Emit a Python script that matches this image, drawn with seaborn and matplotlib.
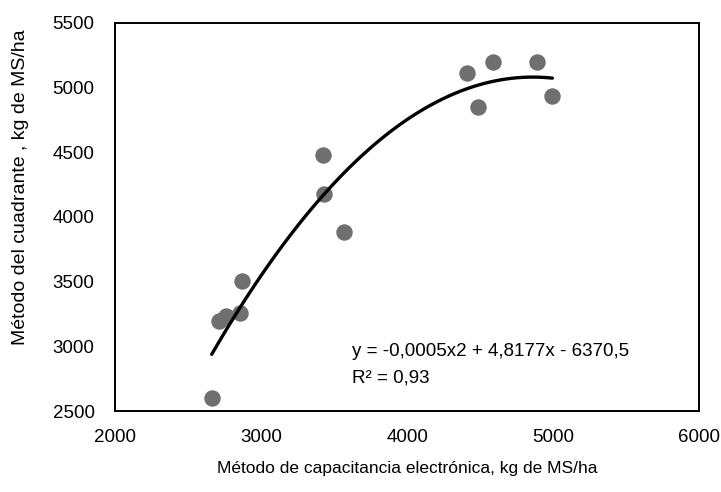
import matplotlib
matplotlib.use("Agg")
import matplotlib.pyplot as plt
import seaborn as sns
import pandas as pd

# Data
capacitancia = [2660, 2870, 2854, 2712, 2758, 3425, 3430, 3568, 4407, 4585, 4886, 4486, 4993]
cuadrante = [2603, 3505, 3258, 3194, 3232, 4481, 4178, 3882, 5111, 5193, 5193, 4852, 4936]
x_ticks = [2000, 3000, 4000, 5000, 6000]
y_ticks = [2500, 3000, 3500, 4000, 4500, 5000, 5500]
eq_text = "y = -0,0005x2 + 4,8177x - 6370,5"
r2_text = "R² = 0,93"

df = pd.DataFrame({"cap": capacitancia, "cua": cuadrante})

sns.set_theme(style="white")
plt.rcParams["font.family"] = ["Liberation Sans", "DejaVu Sans"]

fig = plt.figure(figsize=(7.21, 4.92), dpi=100)
ax = fig.add_axes([0.1600, 0.1646, 0.8100, 0.7893])

sns.regplot(data=df, x="cap", y="cua", order=2, ci=None, ax=ax,
            scatter_kws=dict(s=140, color="#6f6f6f", alpha=1, linewidths=0, zorder=2),
            line_kws=dict(color="black", lw=2.4, zorder=3))

ax.set_xlim(2000, 6000)
ax.set_ylim(2500, 5500)
ax.set_xticks(x_ticks)
ax.set_yticks(y_ticks)
ax.tick_params(axis="both", length=0, labelsize=13.5, colors="black")
ax.tick_params(axis="x", pad=13)
ax.tick_params(axis="y", pad=15)

for sp in ax.spines.values():
    sp.set_visible(True)
    sp.set_color("black")
    sp.set_linewidth(1.4)

ax.set_xlabel("Método de capacitancia electrónica, kg de MS/ha", fontsize=12.5, labelpad=10.5, color="black")
ax.set_ylabel("Método del cuadrante , kg de MS/ha", fontsize=14, color="black")
ax.yaxis.set_label_coords(-0.148, 0.577)

ax.text(3621, 2956, eq_text, fontsize=13.5, va="center", ha="left", color="black")
ax.text(3621, 2755, r2_text, fontsize=13.5, va="center", ha="left", color="black")

fig.savefig("out.png", dpi=100)
